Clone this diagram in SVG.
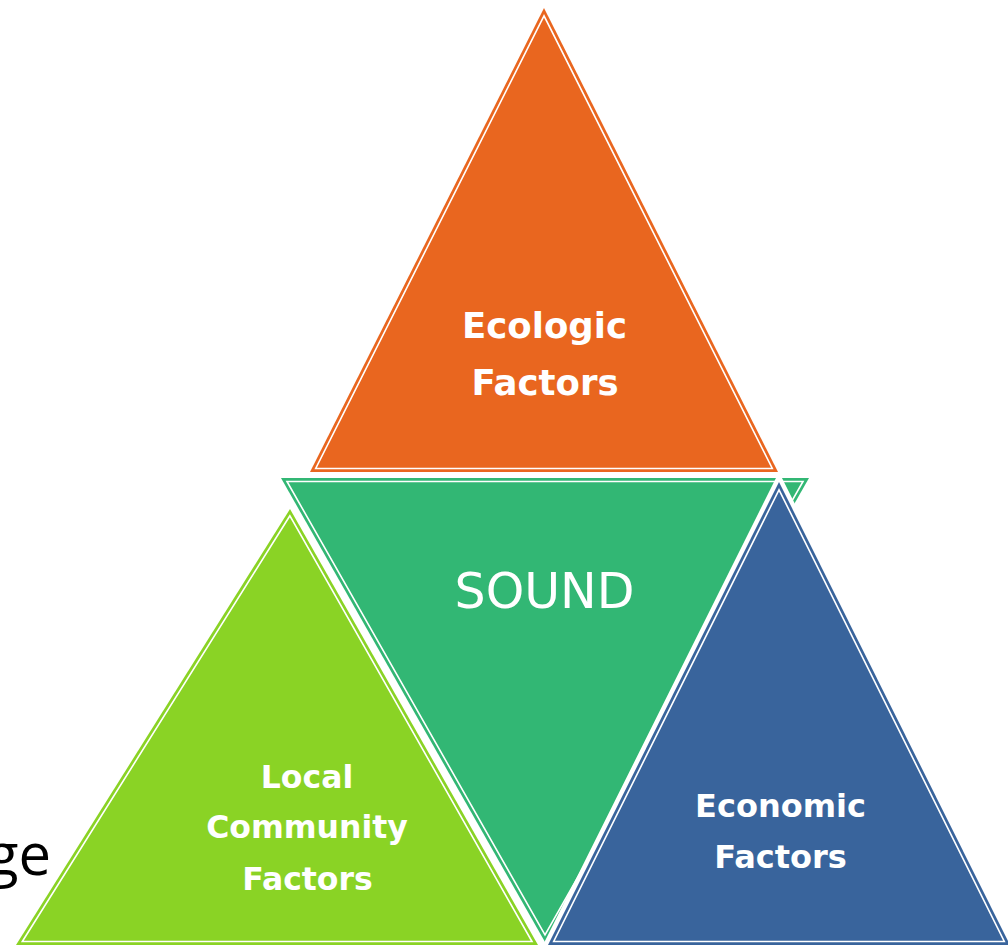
<svg xmlns="http://www.w3.org/2000/svg" width="1008" height="948" viewBox="0 0 1008 948">
  <style>
    .halo { fill: #ffffff; stroke: #ffffff; stroke-width: 9; stroke-linejoin: miter; }
    .inner { fill: none; stroke: #ffffff; stroke-width: 1.6; stroke-linejoin: miter; }
    .lbl { font-family: "DejaVu Sans", "Liberation Sans", sans-serif; font-weight: bold; fill: #ffffff; text-anchor: middle; }
    .orange { fill: #E9661F; }
    .green { fill: #32B774; }
    .lime { fill: #8AD325; }
    .blue { fill: #39649C; }
  </style>
  <rect x="0" y="0" width="1008" height="948" fill="#ffffff"/>

  <text x="51" y="875" font-family="'Open Sans', 'DejaVu Sans', sans-serif" font-size="58" fill="#000000" text-anchor="end">ge</text>

  <g id="ecologic">
    <polygon class="orange" points="544,8 310,472 778,472"/>
    <polygon class="inner" points="544,15.8 315.7,468.5 772.3,468.5"/>
    <text class="lbl" x="544.5" y="338" font-size="35.5">Ecologic</text>
    <text class="lbl" x="545" y="395" font-size="35.5">Factors</text>
  </g>

  <g id="local-community">
    <polygon class="lime" points="290,509 16,945 538,945"/>
    <polygon class="inner" points="289.9,515.8 22.3,941.5 532,941.5"/>
    <text class="lbl" x="307" y="788" font-size="31.5">Local</text>
    <text class="lbl" x="307" y="838" font-size="31.5">Community</text>
    <text class="lbl" x="307.5" y="890" font-size="31.5">Factors</text>
  </g>

  <g id="sound">
    <polygon class="halo" points="281,478 809,478 545,942"/>
    <polygon class="green" points="281,478 809,478 545,942"/>
    <polygon class="inner" points="287,481.5 803,481.5 545,934.9"/>
    <text x="544.5" y="608" font-family="'DejaVu Sans', 'Liberation Sans', sans-serif" font-size="49" fill="#ffffff" text-anchor="middle">SOUND</text>
  </g>

  <g id="economic">
    <polygon class="halo" points="779,482 548,945 1010,945"/>
    <polygon class="blue" points="779,482 548,945 1010,945"/>
    <polygon class="inner" points="779,489.8 553.7,941.5 1004.3,941.5"/>
    <text class="lbl" x="780.5" y="817" font-size="32">Economic</text>
    <text class="lbl" x="780.5" y="868" font-size="32">Factors</text>
  </g>
</svg>
